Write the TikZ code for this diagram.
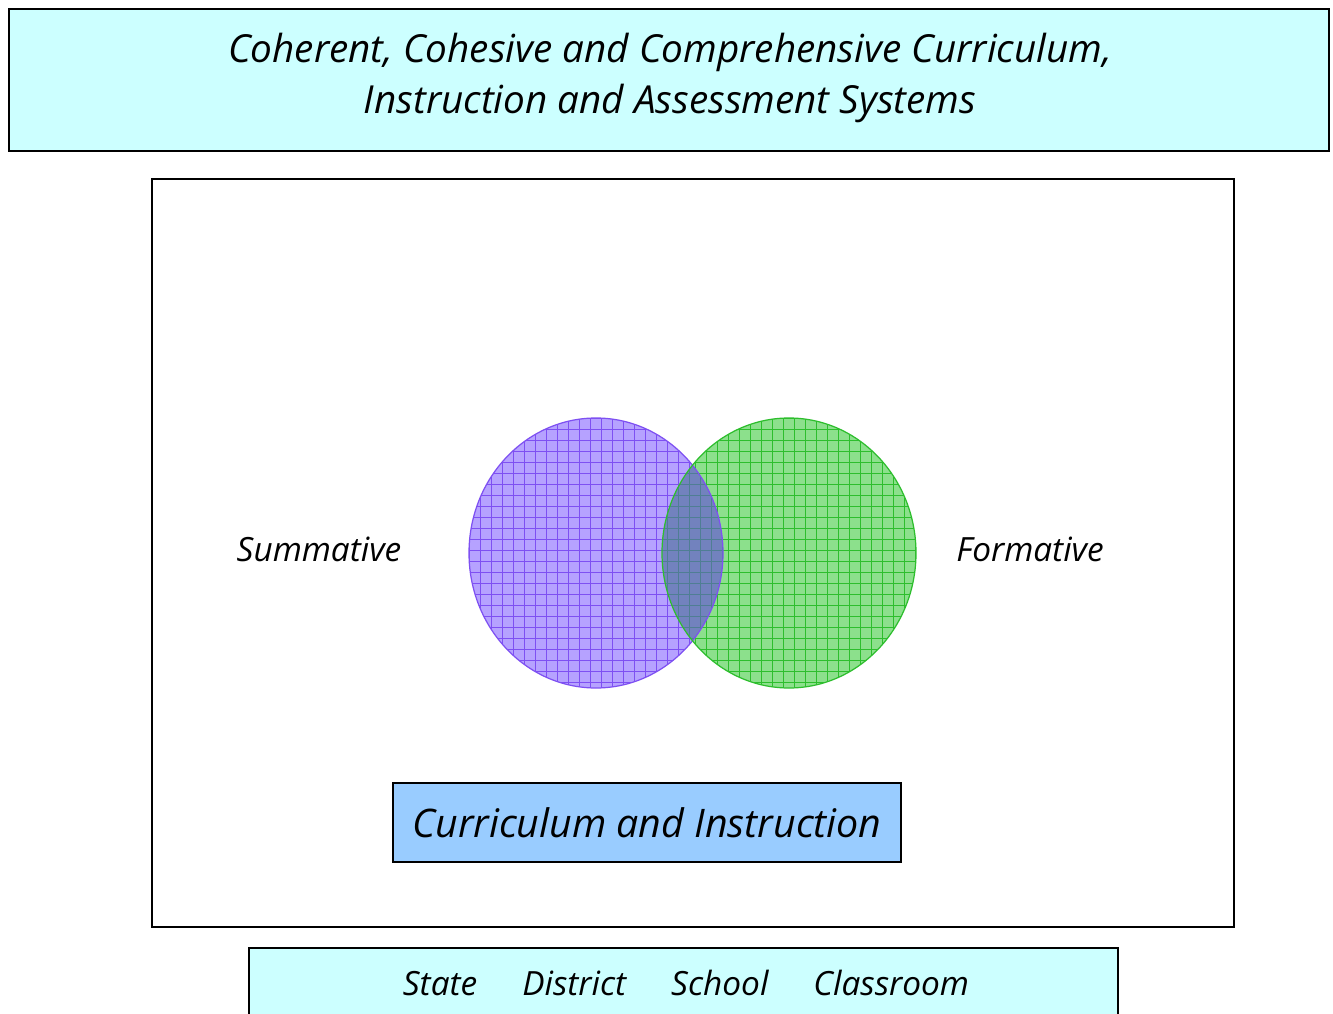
\documentclass[tikz,border=0pt]{standalone}
\usepackage{fontspec}
\setmainfont{Open Sans}

\definecolor{boxcyan}{HTML}{CCFFFF}
\definecolor{boxblue}{HTML}{99CCFF}
\definecolor{sumfill}{HTML}{B6A2FF}
\definecolor{sumline}{HTML}{7E50F2}
\definecolor{formfill}{HTML}{8CE08C}
\definecolor{formline}{HTML}{2DBE2D}
\definecolor{bothfill}{HTML}{7282BE}
\definecolor{bothline}{HTML}{4F7E94}

\tikzset{
    frame/.style={draw=black, line width=1.1pt},
    label text/.style={font=\fontsize{19}{29.5}\selectfont\itshape},
    grid line/.style={line width=0.567pt},
}

\begin{document}
\begin{tikzpicture}[x=0.02cm, y=-0.02cm]
    \pgfmathsetmacro{\rx}{127}% 横半径
    \pgfmathsetmacro{\ry}{135}% 纵半径
    \pgfmathsetmacro{\gap}{11}% 网格间距

    \coordinate (S) at (596, 553);
    \coordinate (F) at (789, 553);

    \useasboundingbox (0, 0) rectangle (1333, 1014);

    % 外框
    \draw[frame, fill=boxcyan] (9, 9) rectangle (1329, 151);
    \draw[frame, fill=white] (152, 179) rectangle (1234, 927);
    \draw[frame, fill=boxcyan] (249, 948) rectangle (1118, 1040);

    \node[label text, font=\fontsize{22}{29.5}\selectfont\itshape, align=center] (title) at (670, 78)
        {Coherent, Cohesive and Comprehensive Curriculum,\\
         Instruction and Assessment Systems};

    % 两个椭圆,先填色再画网格
    \begin{scope}
        \clip (S) ellipse ({\rx} and {\ry});
        \fill[sumfill] (S) ellipse ({\rx} and {\ry});
        \foreach \i in {0,...,25} {
            \draw[sumline, grid line] (469.5 + \i*\gap, 410) -- (469.5 + \i*\gap, 700);
            \draw[sumline, grid line] (460, 418.5 + \i*\gap) -- (730, 418.5 + \i*\gap);
        }
    \end{scope}
    \begin{scope}
        \clip (F) ellipse ({\rx} and {\ry});
        \fill[formfill] (F) ellipse ({\rx} and {\ry});
        \foreach \i in {0,...,25} {
            \draw[formline, grid line] (662.5 + \i*\gap, 410) -- (662.5 + \i*\gap, 700);
            \draw[formline, grid line] (655, 418.5 + \i*\gap) -- (925, 418.5 + \i*\gap);
        }
    \end{scope}

    % 重叠部分
    \begin{scope}
        \clip (S) ellipse ({\rx} and {\ry});
        \clip (F) ellipse ({\rx} and {\ry});
        \fill[bothfill] (F) ellipse ({\rx} and {\ry});
        \foreach \i in {0,...,25} {
            \draw[bothline, grid line] (469.5 + \i*\gap, 410) -- (469.5 + \i*\gap, 700);
            \draw[bothline, grid line] (460, 418.5 + \i*\gap) -- (730, 418.5 + \i*\gap);
        }
    \end{scope}

    \draw[sumline, line width=0.7pt] (S) ellipse ({\rx} and {\ry});
    \draw[formline, line width=0.7pt] (F) ellipse ({\rx} and {\ry});

    \node[label text] (sum) at (319, 549) {Summative};
    \node[label text] (form) at (1030, 549) {Formative};

    \node[frame, fill=boxblue, minimum width=10.16cm, minimum height=1.58cm,
          font=\fontsize{22.4}{28}\selectfont\itshape] (ci) at (647, 822.5)
        {Curriculum and Instruction};

    \node[label text] (levels) at (686, 983)
        {State\hspace{1.35em}District\hspace{1.35em}School\hspace{1.35em}Classroom};
\end{tikzpicture}
\end{document}
